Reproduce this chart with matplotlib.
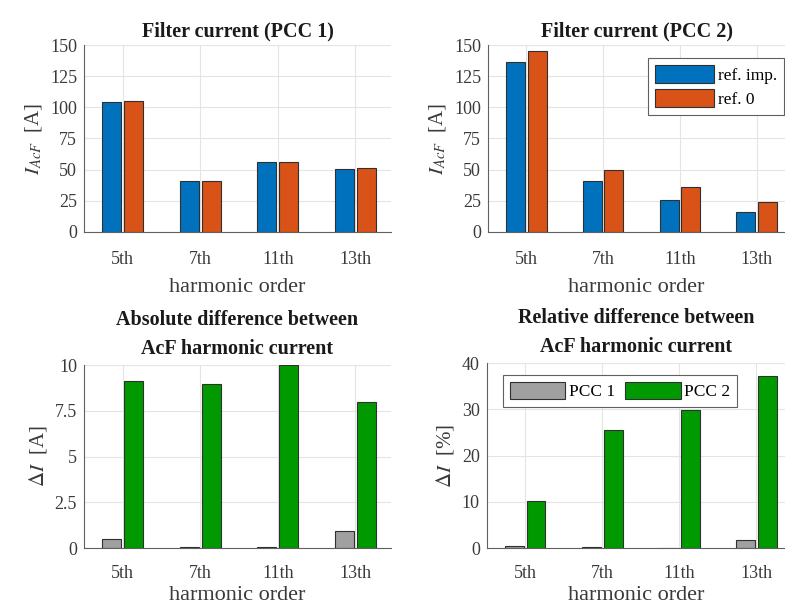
import numpy as np
import matplotlib
matplotlib.use("Agg")
import matplotlib.pyplot as plt

plt.rcParams['font.family'] = ['Liberation Serif', 'DejaVu Serif']
plt.rcParams['mathtext.fontset'] = 'stix'

harmonics = ["5th", "7th", "11th", "13th"]

# filter current [A]
pcc1_ref_imp = [104.5, 40.5, 56.0, 50.5]
pcc1_ref_0 = [105.2, 40.6, 56.1, 51.3]
pcc2_ref_imp = [136.2, 40.9, 25.9, 16.0]
pcc2_ref_0 = [145.3, 49.5, 35.9, 24.1]

# differences between ref. imp. and ref. 0
abs_diff_pcc1 = [0.51, 0.05, 0.03, 0.91]
abs_diff_pcc2 = [9.15, 8.95, 10.0, 7.99]
rel_diff_pcc1 = [0.4, 0.2, 0.1, 1.7]
rel_diff_pcc2 = [10.2, 25.5, 29.8, 37.3]

blue = "#0072BD"
orange = "#D95319"
gray = "#A0A0A0"
green = "#009A00"
text_col = "#3a3a3a"

fig = plt.figure(figsize=(7.85, 6.1), dpi=100)

def style_axes(ax, yticks, ylabels, xmax, xpad=14, labelpad=7):
    x = np.arange(1, 5)
    ax.set_xticks(x)
    ax.set_xticklabels(harmonics)
    ax.set_xlim(0.5, xmax)
    ax.set_yticks(yticks)
    ax.set_yticklabels(ylabels)
    ax.set_ylim(yticks[0], yticks[-1])
    ax.grid(True, color="#e4e4e4", linewidth=0.8)
    ax.set_axisbelow(True)
    for s in ["top", "right"]:
        ax.spines[s].set_visible(False)
    for s in ["left", "bottom"]:
        ax.spines[s].set_color("#606060")
        ax.spines[s].set_linewidth(0.8)
    ax.tick_params(axis="both", length=0, labelsize=13, colors=text_col)
    ax.tick_params(axis="x", pad=xpad)
    ax.tick_params(axis="y", pad=5)
    ax.set_xlabel("harmonic order", fontsize=16, color=text_col, labelpad=labelpad)

def draw_pair(ax, a, b, ca, cb):
    x = np.arange(1, 5)
    w = 0.245
    ba = ax.bar(x - 0.14, a, w, color=ca, edgecolor="#303030", linewidth=0.8)
    bb = ax.bar(x + 0.14, b, w, color=cb, edgecolor="#303030", linewidth=0.8)
    return ba, bb

ax1 = fig.add_axes([0.107, 0.62, 0.391, 0.306])
draw_pair(ax1, pcc1_ref_imp, pcc1_ref_0, blue, orange)
style_axes(ax1, [0, 25, 50, 75, 100, 125, 150], ["0", "25", "50", "75", "100", "125", "150"], 4.46)
ax1.set_ylabel(r"$I_{AcF}$  [A]", fontsize=15, color=text_col)
ax1.set_title("Filter current (PCC 1)", fontsize=14.5, fontweight="bold", color="#1a1a1a", pad=6)

ax2 = fig.add_axes([0.6217, 0.62, 0.3783, 0.306])
b1, b2 = draw_pair(ax2, pcc2_ref_imp, pcc2_ref_0, blue, orange)
style_axes(ax2, [0, 25, 50, 75, 100, 125, 150], ["0", "25", "50", "75", "100", "125", "150"], 4.37)
ax2.set_ylabel(r"$I_{AcF}$  [A]", fontsize=15, color=text_col)
ax2.set_title("Filter current (PCC 2)", fontsize=14.5, fontweight="bold", color="#1a1a1a", pad=6)
leg = ax2.legend([b1, b2], ["ref. imp.", "ref. 0"], loc="upper right", fontsize=12.5,
                 handlelength=3.4, handleheight=1.2, handletextpad=0.2, borderpad=0.4,
                 labelspacing=0.3, fancybox=False, edgecolor="#606060", framealpha=1,
                 bbox_to_anchor=(1.025, 0.975))
leg.get_frame().set_linewidth(0.8)

ax3 = fig.add_axes([0.107, 0.1016, 0.391, 0.300])
draw_pair(ax3, abs_diff_pcc1, abs_diff_pcc2, gray, green)
style_axes(ax3, [0, 2.5, 5, 7.5, 10], ["0", "2.5", "5", "7.5", "10"], 4.46, xpad=12, labelpad=3)
ax3.set_ylabel(r"$\Delta I$  [A]", fontsize=15, color=text_col)
ax3.set_title("Absolute difference between\nAcF harmonic current", fontsize=14.5,
              fontweight="bold", color="#1a1a1a", pad=8, linespacing=1.6)

ax4 = fig.add_axes([0.620, 0.1016, 0.380, 0.303])
g1, g2 = draw_pair(ax4, rel_diff_pcc1, rel_diff_pcc2, gray, green)
style_axes(ax4, [0, 10, 20, 30, 40], ["0", "10", "20", "30", "40"], 4.37, xpad=12, labelpad=3)
ax4.set_ylabel(r"$\Delta I$  [%]", fontsize=15, color=text_col)
ax4.set_title("Relative difference between\nAcF harmonic current", fontsize=14.5,
              fontweight="bold", color="#1a1a1a", pad=8, linespacing=1.6)
leg2 = ax4.legend([g1, g2], ["PCC 1", "PCC 2"], loc="upper left", ncol=2, fontsize=12.5,
                  handlelength=3.2, handleheight=1.2, handletextpad=0.2, borderpad=0.4,
                  columnspacing=0.6, fancybox=False, edgecolor="#606060", framealpha=1,
                  bbox_to_anchor=(0.025, 0.985))
leg2.get_frame().set_linewidth(0.8)

fig.savefig("out.png", dpi=100)
